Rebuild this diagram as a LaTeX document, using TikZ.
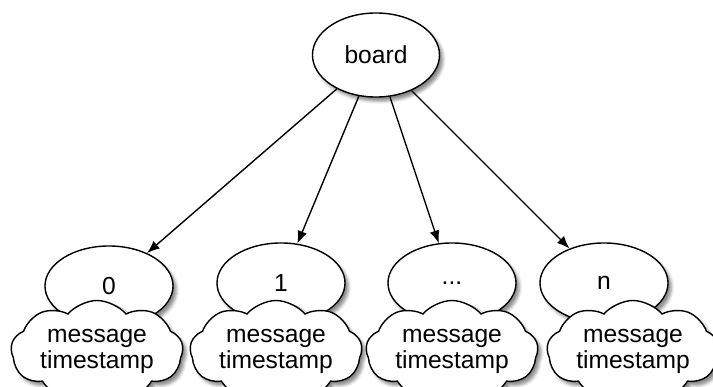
\documentclass[tikz,border=0pt]{standalone}
\usepackage{fontspec}
\setmainfont{Liberation Sans}
\usetikzlibrary{shapes.geometric,shapes.symbols,shadows.blur,arrows.meta}
\begin{document}
\begin{tikzpicture}[x=0.025cm,y=-0.025cm,
% common options for the ellipses:
slot/.style = {ellipse, draw, fill=white, line width=1pt, inner sep=0,
            minimum width=3.2cm, minimum height=2cm,
            blur shadow={shadow xshift=2.5pt, shadow yshift=-3pt, shadow opacity=45},
            font=\fontsize{17.5}{20}\selectfont},
% common options for the clouds:
data/.style = {cloud, cloud puffs=9, cloud puff arc=100, aspect=2,
            draw, fill=white, line width=1pt, align=center, inner sep=0,
            minimum width=4.3cm, minimum height=2.1cm,
            blur shadow={shadow xshift=2.5pt, shadow yshift=-3pt, shadow opacity=45},
            font=\fontsize{17.5}{18.5}\selectfont},
link/.style = {-{Latex[length=9pt,width=7pt]}, line width=1pt}]
\useasboundingbox (0,0) rectangle (713,387);
\node[slot, minimum width=3.175cm, minimum height=2.1cm] (board) at (376,55) {board};
\node[slot] (S0) at (109,286) {0};
\node[slot] (S1) at (281,283) {1};
\node[slot] (S2) at (452,283) {...};
\node[slot] (S3) at (604,283) {n};
\node[data] (D0) at (97,351) {message\\timestamp};
\node[data] (D1) at (276,351) {message\\timestamp};
\node[data] (D2) at (452,351) {message\\timestamp};
\node[data] (D3) at (633,351) {message\\timestamp};
\draw[link] (board) to (S0);
\draw[link] (board) to (S1);
\draw[link] (board) to (S2);
\draw[link] (board) to (S3);
\end{tikzpicture}
\end{document}
